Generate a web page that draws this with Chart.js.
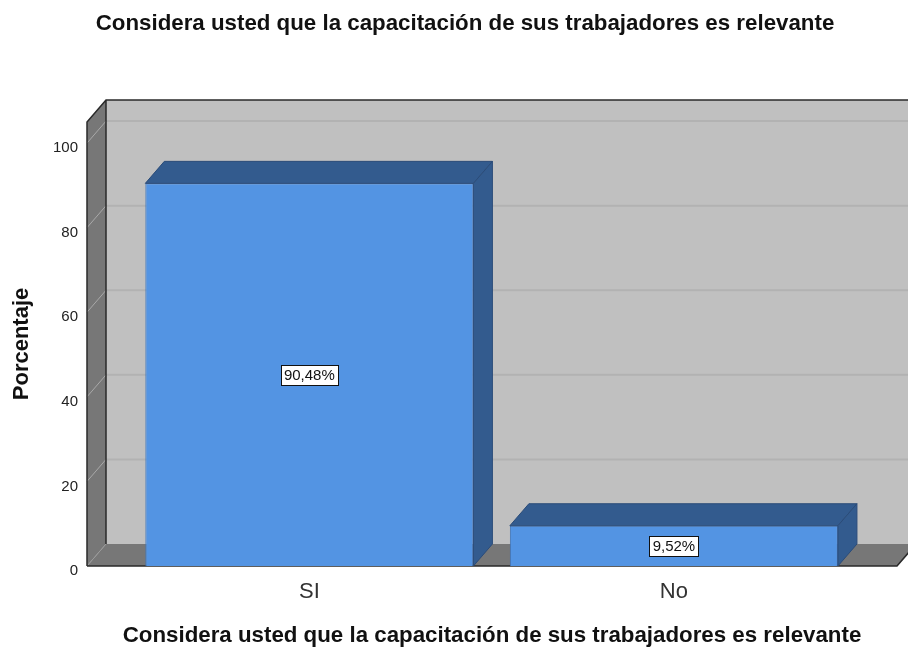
<!DOCTYPE html>
<html>
<head>
<meta charset="utf-8">
<title>Capacitación de trabajadores</title>
<script src="https://cdn.jsdelivr.net/npm/chart.js@4.4.1/dist/chart.umd.min.js"></script>
<style>
    html, body { margin: 0; padding: 0; background: #fff; }
    canvas { display: block; }
</style>
</head>
<body>
<canvas id="barChart" width="908" height="648"></canvas>
<script>
const categories = ['SI', 'No'];
const percentages = [90.48, 9.52];
const yTicks = [0, 20, 40, 60, 80, 100];
const titleText = 'Considera usted que la capacitación de sus trabajadores es relevante';

// depth of the fake 3D box
const DX = 19;
const DY = 22;

const frontColor = '#5394e3';
const shadeColor = '#335b8e';
const edgeColor = '#2b4c79';
const fontFamily = '"Liberation Sans", Arial, sans-serif';

const box3d = {
    id: 'box3d',
    beforeDatasetsDraw(chart) {
        const { ctx, chartArea: a, scales: { y } } = chart;
        const l = a.left, r = a.right, t = a.top, b = a.bottom;
        const W = chart.width + 20;

        ctx.save();
        // back wall
        ctx.fillStyle = '#c0c0c0';
        ctx.fillRect(l + DX, t - DY, W - l - DX, b - t);

        // left wall
        ctx.fillStyle = '#777777';
        ctx.beginPath();
        ctx.moveTo(l, t);
        ctx.lineTo(l + DX, t - DY);
        ctx.lineTo(l + DX, b - DY);
        ctx.lineTo(l, b);
        ctx.closePath();
        ctx.fill();

        // floor
        ctx.beginPath();
        ctx.moveTo(l, b);
        ctx.lineTo(r, b);
        ctx.lineTo(r + DX, b - DY);
        ctx.lineTo(l + DX, b - DY);
        ctx.closePath();
        ctx.fill();

        // grid lines on the walls
        yTicks.filter(v => v > 0).forEach(v => {
            const py = y.getPixelForValue(v);
            ctx.strokeStyle = '#a9a9a9';
            ctx.lineWidth = 1;
            ctx.beginPath();
            ctx.moveTo(l, py);
            ctx.lineTo(l + DX, py - DY);
            ctx.stroke();
            ctx.strokeStyle = '#b2b2b2';
            ctx.lineWidth = 2;
            ctx.beginPath();
            ctx.moveTo(l + DX, py - DY);
            ctx.lineTo(W, py - DY);
            ctx.stroke();
        });

        // faint edge at bottom of left wall
        ctx.strokeStyle = '#9a9a9a';
        ctx.lineWidth = 1;
        ctx.beginPath();
        ctx.moveTo(l, b);
        ctx.lineTo(l + DX, b - DY);
        ctx.stroke();

        // dark outlines
        ctx.strokeStyle = '#2a2a2a';
        ctx.lineWidth = 1.5;
        ctx.beginPath();
        ctx.moveTo(l, b);
        ctx.lineTo(l, t);
        ctx.lineTo(l + DX, t - DY);
        ctx.lineTo(W, t - DY);
        ctx.moveTo(l + DX, t - DY);
        ctx.lineTo(l + DX, b - DY);
        ctx.moveTo(l, b);
        ctx.lineTo(r, b);
        ctx.lineTo(r + DX, b - DY);
        ctx.stroke();
        ctx.restore();
    },
    afterDatasetsDraw(chart) {
        const { ctx } = chart;
        const meta = chart.getDatasetMeta(0);
        ctx.save();
        meta.data.forEach((bar, i) => {
            const { x, y, width, base } = bar.getProps(['x', 'y', 'width', 'base'], true);
            const left = x - width / 2;
            const right = x + width / 2;

            ctx.fillStyle = shadeColor;
            ctx.strokeStyle = edgeColor;
            ctx.lineWidth = 1;
            // top face
            ctx.beginPath();
            ctx.moveTo(left, y);
            ctx.lineTo(right, y);
            ctx.lineTo(right + DX, y - DY);
            ctx.lineTo(left + DX, y - DY);
            ctx.closePath();
            ctx.fill();
            ctx.stroke();
            // side face
            ctx.beginPath();
            ctx.moveTo(right, y);
            ctx.lineTo(right + DX, y - DY);
            ctx.lineTo(right + DX, base - DY);
            ctx.lineTo(right, base);
            ctx.closePath();
            ctx.fill();
            ctx.stroke();

            // value label
            const text = percentages[i].toFixed(2).replace('.', ',') + '%';
            ctx.font = '15px ' + fontFamily;
            const tw = ctx.measureText(text).width;
            const cy = (y + base) / 2;
            const bw = Math.round(tw + 6);
            const bh = 20;
            const bx = Math.round(x - bw / 2) + 0.5;
            const by = Math.round(cy - bh / 2) + 0.5;
            ctx.fillStyle = '#ffffff';
            ctx.fillRect(bx, by, bw, bh);
            ctx.strokeStyle = '#111';
            ctx.strokeRect(bx, by, bw, bh);
            ctx.fillStyle = '#111';
            ctx.textAlign = 'center';
            ctx.textBaseline = 'middle';
            ctx.fillText(text, x, cy + 1);
        });
        ctx.restore();
    }
};

new Chart(document.getElementById('barChart'), {
    type: 'bar',
    data: {
        datasets: [{
            data: categories.map((c, i) => ({ x: i, y: percentages[i] })),
            backgroundColor: frontColor,
            borderColor: '#3f74b8',
            borderWidth: 1,
            barPercentage: 0.9,
            categoryPercentage: 1
        }]
    },
    options: {
        responsive: false,
        animation: false,
        layout: { padding: { left: 33, right: 11, top: 0, bottom: 0 } },
        plugins: {
            legend: { display: false },
            tooltip: { enabled: false },
            title: {
                display: true,
                text: titleText,
                color: '#111',
                font: { family: fontFamily, size: 22.3, weight: 'bold' },
                padding: { top: 10, bottom: 85.2 }
            }
        },
        scales: {
            x: {
                type: 'linear',
                offset: false,
                min: -0.61,
                max: 1.612,
                grid: { display: false },
                border: { display: false },
                afterBuildTicks: s => { s.ticks = categories.map((c, i) => ({ value: i })); },
                afterFit: s => { s.height = 82; },
                ticks: {
                    padding: 5,
                    color: '#333',
                    font: { family: fontFamily, size: 22 },
                    callback: v => categories[v]
                },
                title: {
                    display: true,
                    text: titleText,
                    color: '#111',
                    font: { family: fontFamily, size: 22.3, weight: 'bold' },
                    padding: { top: 0, bottom: -1 }
                }
            },
            y: {
                min: 0,
                max: 105,
                grid: { display: false },
                border: { display: false },
                afterBuildTicks: s => { s.ticks = yTicks.map(v => ({ value: v })); },
                afterFit: s => { s.width = 54; },
                ticks: {
                    padding: 1,
                    labelOffset: 5,
                    color: '#222',
                    font: { family: fontFamily, size: 15 }
                },
                title: {
                    display: true,
                    text: 'Porcentaje',
                    color: '#111',
                    font: { family: fontFamily, size: 22, weight: 'bold' },
                    padding: { top: -24, bottom: 0 }
                }
            }
        }
    },
    plugins: [box3d]
});
</script>
</body>
</html>
